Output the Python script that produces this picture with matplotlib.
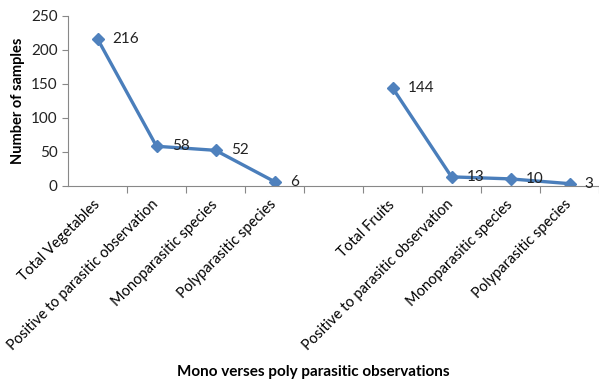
import numpy as np
import matplotlib
matplotlib.use('Agg')
import matplotlib.pyplot as plt

plt.rcParams['font.family'] = ['Lato', 'DejaVu Sans']

categories = ['Total Vegetables', 'Positive to parasitic observation',
              'Monoparasitic species', 'Polyparasitic species', '',
              'Total Fruits', 'Positive to parasitic observation',
              'Monoparasitic species', 'Polyparasitic species']
vegetables = [216, 58, 52, 6]
fruits = [144, 13, 10, 3]

# one series with a gap between the two groups
values = vegetables + [np.nan] + fruits
x = np.arange(len(categories))

fig = plt.figure(figsize=(5.99, 3.83), dpi=100)
ax = fig.add_axes([68 / 599, 1 - 185.7 / 383, 531 / 599, 170 / 383])

line_color = '#4A7EBB'
ax.plot(x, values, color=line_color, linewidth=2.4, marker='D',
        markersize=6, markerfacecolor='#4F81BD', markeredgecolor='#4F81BD')

for xi, v in zip(x, values):
    if np.isnan(v):
        continue
    ax.annotate(str(int(v)), (xi, v), xytext=(11, 0),
                textcoords='offset points', ha='left', va='center',
                fontsize=11, color='#222222')

ax.set_xlim(-0.5, len(categories) - 0.5)
ax.set_ylim(0, 250)
ax.set_yticks([0, 50, 100, 150, 200, 250])

# boundary ticks between categories, labels sit at the centres
ax.set_xticks(np.arange(len(categories)) + 0.5)
ax.set_xticklabels([])
ax.set_xticks(x, minor=True)
ax.set_xticklabels(categories, minor=True, rotation=45, ha='right',
                   va='center', rotation_mode='anchor', fontsize=10.5)
ax.tick_params(axis='x', which='major', length=5, color='#888888')
ax.tick_params(axis='x', which='minor', length=0, pad=12)
ax.tick_params(axis='y', length=4, color='#888888', labelsize=11,
               labelcolor='#222222')

for side in ['top', 'right']:
    ax.spines[side].set_visible(False)
for side in ['left', 'bottom']:
    ax.spines[side].set_color('#888888')

ax.set_ylabel('Number of samples', fontsize=10.5, fontweight='bold',
              labelpad=4)
fig.text(313 / 599, 1 - 372 / 383, 'Mono verses poly parasitic observations',
         ha='center', va='center', fontsize=11, fontweight='bold')

fig.savefig('out.png', dpi=100)
